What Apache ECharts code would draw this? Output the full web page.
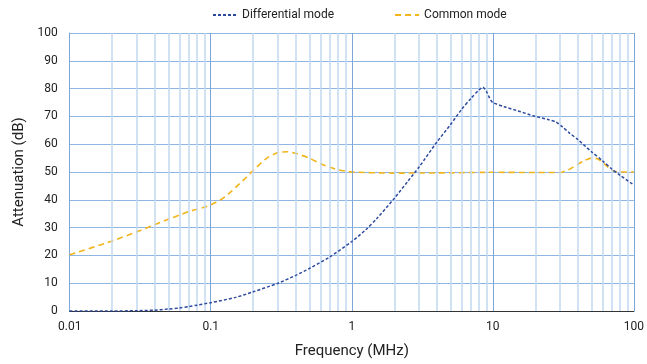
<!DOCTYPE html>
<html><head><meta charset="utf-8">
<script src="https://cdn.jsdelivr.net/npm/echarts@6/dist/echarts.min.js"></script>
<style>html,body{margin:0;padding:0;background:#fff}#c{width:647px;height:364px}</style>
</head><body><div id="c"></div>
<script>
var diffFreq = [0.01,0.02,0.03,0.04,0.05,0.06,0.07,0.08,0.1,0.15,0.2,0.3,0.4,0.5,0.7,1,1.26,1.5,2,2.5,3,4,5,6,7,8,8.5,9,9.5,10,12,15,20,25,28,31,35,40,50,60,70,80,100];
var diffVal  = [0,0,0.1,0.3,0.7,1.1,1.6,2.1,3.0,4.9,6.9,10,12.8,15.3,19.5,25,29.3,33.2,40.5,46.7,51.8,60.7,67,72.5,76.5,79.6,80.5,79,76.5,75,73.5,72,70,68.8,68,66.3,64,61.7,57.3,54,51,48.8,45.3];
var cmFreq = [0.01,0.02,0.03,0.04,0.05,0.06,0.07,0.08,0.09,0.1,0.12,0.14,0.16,0.18,0.2,0.25,0.3,0.35,0.4,0.5,0.6,0.7,0.8,1,2,5,10,20,30,35,40,45,50,55,60,70,80,100];
var cmVal  = [20.2,25.2,28.5,31,33,34.5,35.8,36.6,37.3,38.2,40.3,43,45.8,48.2,50.6,55,57,57.3,56.7,55,53,51.7,50.8,50,49.6,49.7,49.9,49.8,49.8,51,52.8,54.2,55,54.8,53.5,50.5,50,50];
var minorGrid = [0.02,0.03,0.04,0.05,0.06,0.07,0.08,0.09,0.2,0.3,0.4,0.5,0.6,0.7,0.8,0.9,2,3,4,5,6,7,8,9,20,30,40,50,60,70,80,90];
var decadeGrid = [0.1,1,10,100];
var seriesNames = ['Differential mode','Common mode'];

function pairs(a,b){return a.map(function(v,i){return [v,b[i]];});}
var chart = echarts.init(document.getElementById('c'));
var font = 'Roboto';
chart.setOption({
  animation:false,
  textStyle:{fontFamily:font},
  legend:{top:4,left:207,itemWidth:24,itemHeight:10,itemGap:60,
    itemStyle:{opacity:0},
    textStyle:{fontFamily:font,fontSize:12,color:'#222'},
    data:seriesNames},
  grid:{left:69.7,right:12,top:33,bottom:53},
  xAxis:{type:'log',logBase:10,min:0.01,max:100,
    name:'Frequency (MHz)',nameLocation:'middle',nameGap:33,
    nameTextStyle:{fontFamily:font,fontSize:15,color:'#222'},
    axisLine:{onZero:false,lineStyle:{color:'#333',width:1.2}},
    axisTick:{show:false},
    axisLabel:{fontFamily:font,fontSize:12,color:'#222',margin:10,
      formatter:function(v){return String(+v.toPrecision(6));}},
    splitLine:{show:false}},
  yAxis:{type:'value',min:0,max:100,interval:10,
    name:'Attenuation (dB)',nameLocation:'middle',nameGap:42,
    nameTextStyle:{fontFamily:font,fontSize:15,color:'#222'},
    axisLine:{show:true,onZero:false,lineStyle:{color:'#7ea6d8',width:1}},
    axisTick:{show:false},
    axisLabel:{fontFamily:font,fontSize:12,color:'#222',margin:12},
    splitLine:{lineStyle:{color:'#8fb5e3',width:1.2}}},
  series:[
    {type:'line',name:'_grid',data:[],silent:true,
      markLine:{silent:true,symbol:['none','none'],label:{show:false},animation:false,
        lineStyle:{color:'#c2d9f1',width:1.5,type:'solid'},
        data:minorGrid.map(function(v){return {xAxis:v};}).concat(
          decadeGrid.map(function(v){return {xAxis:v,lineStyle:{color:'#7ea6d8',width:1,type:'solid'}};}))}},
    {type:'line',name:seriesNames[0],data:pairs(diffFreq,diffVal),symbol:'none',smooth:0.25,
      itemStyle:{color:'#2e4a9e'},
      lineStyle:{color:'#2e4a9e',width:1.5,type:[3,2]},z:5},
    {type:'line',name:seriesNames[1],data:pairs(cmFreq,cmVal),symbol:'none',smooth:0.2,
      itemStyle:{color:'#f2b51c'},
      lineStyle:{color:'#f2b51c',width:1.6,type:[6,4]},z:4}
  ]
});
</script></body></html>
